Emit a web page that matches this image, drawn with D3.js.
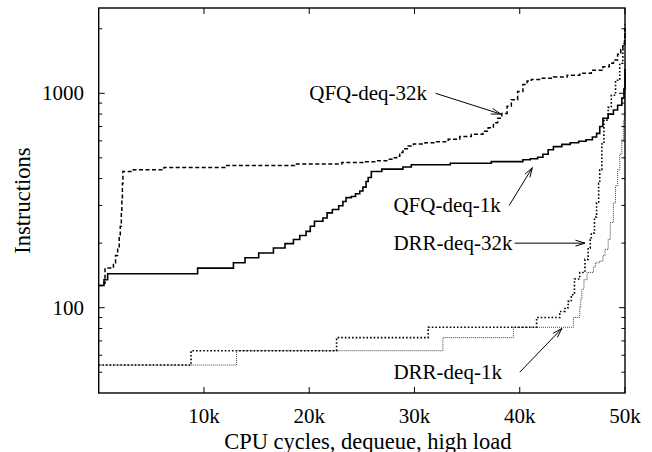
<!DOCTYPE html>
<html>
<head>
<meta charset="utf-8">
<script src="https://cdn.jsdelivr.net/npm/d3@7"></script>
<style>
    body { margin: 0; background: #fff; }
    text { font-family: "Liberation Serif", "Times New Roman", serif; font-size: 21px; fill: #000; }
    text.title { font-size: 22.5px; }
</style>
</head>
<body>
<div id="chart"></div>
<script>
// tick values
const xTicks = [10000, 20000, 30000, 40000, 50000];
const yMajor = [100, 1000];
const yMinor = [50, 60, 70, 80, 90, 200, 300, 400, 500, 600, 700, 800, 900, 2000];

// QFQ-deq-1k (solid)
const qfq1kX = [0, 500, 850, 9400, 12800, 13900, 15200, 16600, 17700, 18500, 19100, 19700, 20100, 20500,
    21300, 21700, 22200, 22800, 23200, 23500, 24000, 24400, 24800, 25100, 25400, 25600, 25900, 26900,
    28900, 29700, 33400, 37300, 40300, 41000, 41700, 42200, 42700, 43200, 44000, 44800, 45600, 46300,
    46900, 47300, 47600, 47900, 48400, 48900, 49300, 49700, 49900, 50000];
const qfq1kY = [127, 135, 144, 153, 162, 171, 180, 190, 199, 208, 217, 227, 240, 253,
    262, 277, 287, 299, 313, 326, 330, 340, 350, 365, 388, 405, 432, 443,
    453, 464, 472, 480, 490, 495, 503, 520, 545, 564, 578, 588, 598, 607,
    625, 650, 700, 765, 800, 836, 880, 950, 1050, 1300];

// QFQ-deq-32k (dashed)
const qfq32kX = [0, 500, 600, 1100, 1400, 1600, 1800, 1950, 2050, 2150, 2200, 2250, 2300, 3300, 6200,
    12000, 18600, 23100, 25100, 26500, 27500, 28000, 28300, 28600, 28900, 29400, 29900, 31000, 32100,
    33200, 34300, 35400, 36500, 37000, 37500, 37900, 38300, 38800, 39200, 39800, 40300, 40700, 41100,
    42000, 43200, 44500, 45700, 46800, 47900, 48500, 48900, 49300, 49600, 49800, 49950, 50000];
const qfq32kY = [127, 130, 153, 153, 162, 175, 190, 215, 240, 280, 319, 380, 432, 440, 451,
    460, 468, 475, 480, 485, 492, 500, 508, 530, 551, 568, 580, 588, 595,
    610, 628, 645, 666, 690, 728, 765, 806, 870, 934, 1020, 1100, 1140, 1160,
    1175, 1190, 1215, 1240, 1280, 1330, 1380, 1430, 1520, 1600, 1700, 1800, 2100];

// DRR-deq-32k (coarse dots)
const drr32kX = [0, 8770, 22600, 31300, 41600, 43800, 44300, 44600, 44900, 45200, 45700, 46200, 46500,
    46700, 46800, 47100, 47300, 47500, 47600, 47800, 48000, 48400, 48700, 49100, 49500, 49800, 50000];
const drr32kY = [54, 63, 72.5, 81, 90, 96, 100, 107, 115, 136, 146, 168, 190,
    208, 223, 265, 308, 380, 440, 580, 750, 860, 980, 1150, 1380, 1700, 2000];

// DRR-deq-1k (fine dots)
const drr1kX = [0, 13100, 32700, 39400, 45100, 45700, 45800, 45900, 46100, 46400, 47000, 47200, 47600,
    47900, 48100, 48400, 48600, 48900, 49100, 49300, 49500, 49700, 49850, 49950, 50000];
const drr1kY = [54, 63, 72.5, 81, 90, 100, 110, 122, 135, 146, 155, 162, 165,
    175, 187, 208, 250, 308, 370, 440, 520, 607, 750, 1000, 1400];

// labels with arrows (data units)
const labelText = ['QFQ-deq-32k', 'QFQ-deq-1k', 'DRR-deq-32k', 'DRR-deq-1k'];
const labelPos = [[20000, 1000], [28000, 300], [28000, 200], [28000, 50]];
const arrowFrom = [[32000, 1000], [39000, 300], [39500, 200], [40000, 50]];
const arrowTo = [[38200, 800], [41200, 450], [46200, 200], [44000, 80]];

const W = 652;
const H = 452;
const L = 98.7, R = 625, T = 8, B = 393;

const svg = d3.select('#chart')
    .append('svg')
    .attr('width', W)
    .attr('height', H);

const x = d3.scaleLinear().domain([0, 50000]).range([L, R]);
const y = d3.scaleLog().domain([40, 2500]).range([B, T]);

// series
const series = [
    { xs: drr1kX, ys: drr1kY, color: '#444', width: 1, dash: '1,1' },
    { xs: drr32kX, ys: drr32kY, color: '#000', width: 1.6, dash: '1.6,2' },
    { xs: qfq1kX, ys: qfq1kY, color: '#000', width: 1.6, dash: null },
    { xs: qfq32kX, ys: qfq32kY, color: '#000', width: 1.5, dash: '4,2.5' },
];

const line = d3.line()
    .x(d => x(d[0]))
    .y(d => y(d[1]))
    .curve(d3.curveStepAfter);

series.forEach((s) => {
    svg.append('path')
        .attr('d', line(s.xs.map((v, i) => [v, s.ys[i]])))
        .attr('fill', 'none')
        .attr('stroke', s.color)
        .attr('stroke-width', s.width)
        .attr('stroke-dasharray', s.dash);
});

// frame
svg.append('rect')
    .attr('x', L)
    .attr('y', T)
    .attr('width', R - L)
    .attr('height', B - T)
    .attr('fill', 'none')
    .attr('stroke', '#000')
    .attr('stroke-width', 1.4);

// x ticks (inward, mirrored)
const ticks = svg.append('g').attr('stroke', '#000').attr('stroke-width', 1);
xTicks.forEach((t) => {
    ticks.append('line').attr('x1', x(t)).attr('x2', x(t)).attr('y1', B).attr('y2', B - 6);
    ticks.append('line').attr('x1', x(t)).attr('x2', x(t)).attr('y1', T).attr('y2', T + 6);
});
svg.selectAll('.xlab')
    .data(xTicks)
    .enter()
    .append('text')
    .attr('x', d => x(d))
    .attr('y', 423)
    .attr('text-anchor', 'middle')
    .text(d => `${d / 1000}k`);

// y ticks
yMajor.concat(yMinor).forEach((t) => {
    const len = yMajor.includes(t) ? 6 : 3.5;
    ticks.append('line').attr('x1', L).attr('x2', L + len).attr('y1', y(t)).attr('y2', y(t));
    ticks.append('line').attr('x1', R).attr('x2', R - len).attr('y1', y(t)).attr('y2', y(t));
});
svg.selectAll('.ylab')
    .data(yMajor)
    .enter()
    .append('text')
    .attr('x', 84)
    .attr('y', d => y(d) + 7)
    .attr('text-anchor', 'end')
    .text(d => d);

// axis titles
svg.append('text')
    .attr('class', 'title')
    .attr('x', (L + R) / 2 + 6)
    .attr('y', 448.5)
    .attr('text-anchor', 'middle')
    .text('CPU cycles, dequeue, high load');
svg.append('text')
    .attr('class', 'title')
    .attr('transform', `translate(30,${(T + B) / 2}) rotate(-90)`)
    .attr('text-anchor', 'middle')
    .text('Instructions');

// labels + arrows
labelText.forEach((txt, i) => {
    svg.append('text')
        .attr('x', x(labelPos[i][0]))
        .attr('y', y(labelPos[i][1]) + 7)
        .text(txt);

    const x1 = x(arrowFrom[i][0]);
    const y1 = y(arrowFrom[i][1]);
    const x2 = x(arrowTo[i][0]);
    const y2 = y(arrowTo[i][1]);
    const a = Math.atan2(y2 - y1, x2 - x1);
    const hl = 10;
    const ha = 0.3;
    svg.append('path')
        .attr('d', `M${x1},${y1}L${x2},${y2}`
            + `M${x2 - hl * Math.cos(a - ha)},${y2 - hl * Math.sin(a - ha)}L${x2},${y2}`
            + `L${x2 - hl * Math.cos(a + ha)},${y2 - hl * Math.sin(a + ha)}`)
        .attr('fill', 'none')
        .attr('stroke', '#000')
        .attr('stroke-width', 1);
});
</script>
</body>
</html>
